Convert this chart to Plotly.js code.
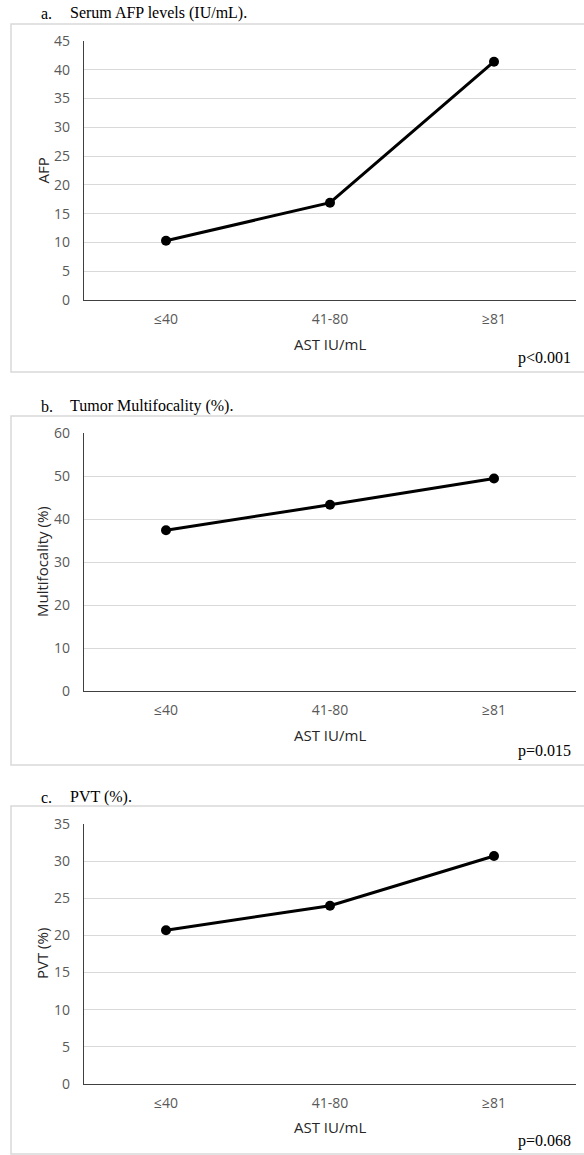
<!DOCTYPE html>
<html>
<head>
<meta charset="utf-8">
<script src="https://cdn.plot.ly/plotly-3.0.1.min.js"></script>
<style>
html,body{margin:0;padding:0;background:#fff;}
#chart{width:584px;height:1155px;}
</style>
</head>
<body>
<div id="chart"></div>
<script>
// ---- data ----
var categories = ["≤40", "41-80", "≥81"];
var afpValues = [10.3, 16.9, 41.4];
var multifocalityValues = [37.4, 43.3, 49.4];
var pvtValues = [20.7, 24.0, 30.7];
var panelTitles = ["Serum AFP levels (IU/mL).", "Tumor Multifocality (%).", "PVT (%)."];
var panelLetters = ["a.", "b.", "c."];
var yTitles = ["AFP", "Multifocality (%)", "PVT (%)"];
var xTitle = "AST IU/mL";
var pValues = ["p<0.001", "p=0.015", "p=0.068"];
var yMax = [45, 60, 35];
var yStep = [5, 10, 5];

// ---- layout geometry (pixels) ----
var W = 584, H = 1155;
function px(x){ return x / W; }
function py(y){ return 1 - y / H; }

var panels = [
  {titleY: 13, boxTop: 24, boxBottom: 372, plotTop: 41, plotBottom: 300, xTitleY: 344, pY: 358},
  {titleY: 406, boxTop: 416, boxBottom: 765, plotTop: 433, plotBottom: 691, xTitleY: 735, pY: 751},
  {titleY: 797, boxTop: 806, boxBottom: 1154, plotTop: 824, plotBottom: 1084, xTitleY: 1127, pY: 1141}
];
var seriesList = [afpValues, multifocalityValues, pvtValues];

var plotLeft = 84, plotRight = 576;

var data = [];
var layout = {
  width: W, height: H,
  margin: {l: 0, r: 0, t: 0, b: 0},
  paper_bgcolor: "#ffffff",
  plot_bgcolor: "#ffffff",
  showlegend: false,
  annotations: [],
  shapes: []
};

var tickFont = {family: "Open Sans, sans-serif", size: 14, color: "#595959"};
var axTitleFont = {family: "Open Sans, sans-serif", size: 15, color: "#262626"};
var serifFont = {family: "Liberation Serif, Times New Roman, serif", size: 16, color: "#000000"};

panels.forEach(function(p, i){
  var n = i + 1;
  var xa = "x" + (n === 1 ? "" : n);
  var ya = "y" + (n === 1 ? "" : n);
  data.push({
    type: "scatter", mode: "lines+markers",
    x: categories, y: seriesList[i],
    xaxis: xa, yaxis: ya,
    line: {color: "#000000", width: 3},
    marker: {color: "#000000", size: 10, symbol: "circle"},
    hoverinfo: "x+y"
  });
  var xKey = "xaxis" + (n === 1 ? "" : n);
  var yKey = "yaxis" + (n === 1 ? "" : n);
  layout[xKey] = {
    type: "category",
    domain: [px(plotLeft), px(plotRight)],
    range: [-0.5, 2.5],
    anchor: ya,
    showgrid: false, zeroline: false,
    showline: true, linecolor: "#404040", linewidth: 1.3,
    ticks: "", tickfont: tickFont, ticklabelstandoff: 6,
    fixedrange: true
  };
  layout[yKey] = {
    domain: [py(p.plotBottom), py(p.plotTop)],
    range: [0, yMax[i]],
    dtick: yStep[i], tick0: 0,
    anchor: xa,
    showgrid: true, gridcolor: "#d9d9d9", gridwidth: 1,
    zeroline: false,
    showline: true, linecolor: "#404040", linewidth: 1.3,
    ticks: "", tickfont: tickFont, ticklabelstandoff: 10,
    fixedrange: true
  };
  // frame box
  layout.shapes.push({
    type: "rect", xref: "paper", yref: "paper",
    x0: px(11), x1: px(600), y0: py(p.boxBottom), y1: py(p.boxTop),
    line: {color: "#d9d9d9", width: 1.5}, fillcolor: "rgba(0,0,0,0)", layer: "below"
  });
  // panel titles
  layout.annotations.push({
    xref: "paper", yref: "paper", x: px(39), y: py(p.titleY),
    xanchor: "left", yanchor: "middle", showarrow: false,
    text: panelLetters[i], font: serifFont
  });
  layout.annotations.push({
    xref: "paper", yref: "paper", x: px(68), y: py(p.titleY),
    xanchor: "left", yanchor: "middle", showarrow: false,
    text: panelTitles[i], font: serifFont
  });
  // y title
  layout.annotations.push({
    xref: "paper", yref: "paper", x: px(42), y: py((p.plotTop + p.plotBottom) / 2),
    xanchor: "center", yanchor: "middle", showarrow: false, textangle: -90,
    text: yTitles[i], font: axTitleFont
  });
  // x title
  layout.annotations.push({
    xref: "paper", yref: "paper", x: px((plotLeft + plotRight) / 2), y: py(p.xTitleY),
    xanchor: "center", yanchor: "middle", showarrow: false,
    text: xTitle, font: axTitleFont
  });
  // p-value
  layout.annotations.push({
    xref: "paper", yref: "paper", x: px(573), y: py(p.pY),
    xanchor: "right", yanchor: "middle", showarrow: false,
    text: pValues[i], font: serifFont
  });
});

Plotly.newPlot("chart", data, layout, {displayModeBar: false, staticPlot: true});
</script>
</body>
</html>
